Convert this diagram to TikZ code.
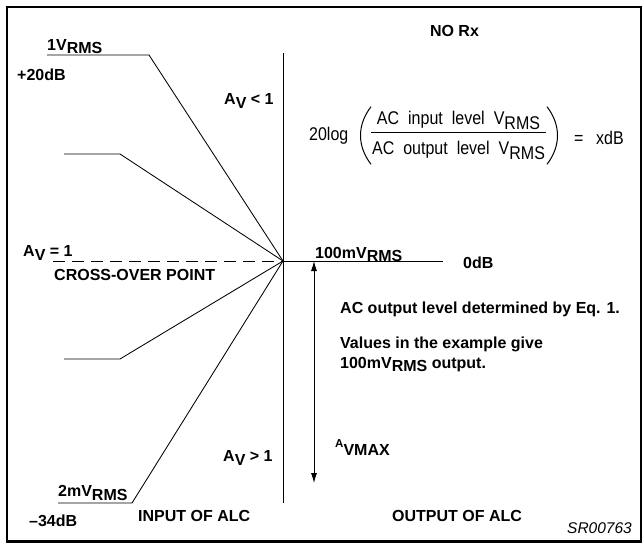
\documentclass[tikz,border=0pt]{standalone}
\usepackage{fontspec}
\usepackage{graphicx}
\setmainfont{Liberation Sans}
\usetikzlibrary{arrows.meta}
\newcommand\lsub[1]{\raisebox{-3.8pt}{#1}}
\newcommand\fsub[1]{\raisebox{-4.7pt}{#1}}
\newcommand\wsp{\hspace*{9pt}}
\newcommand\fstr[1]{\scalebox{1}[1.15]{#1}}
\begin{document}
\begin{tikzpicture}[x=1pt,y=-1pt,
  lbl/.style={font=\fontsize{16}{18}\selectfont\bfseries, inner sep=0pt, anchor=base west},
  frm/.style={font=\fontsize{16}{18}\selectfont, inner sep=0pt, anchor=base west},
  ln/.style={line width=0.85pt, line join=round},
  dbl/.style={ln, {Latex[length=10pt,width=6pt]}-{Latex[length=10pt,width=6pt]}}]
\useasboundingbox (0,0) rectangle (643,544);
% frame
\draw[line width=2.2pt] (6.6,6.6) rectangle (641.3,541.5);
% key coordinates
\coordinate (X) at (283,261);
\coordinate (top) at (283,53);
\coordinate (bot) at (283,503);
\coordinate (a1) at (149,55);  \coordinate (a0) at (47,55);
\coordinate (b1) at (120,154); \coordinate (b0) at (64,154);
\coordinate (c1) at (120,359); \coordinate (c0) at (64,359);
\coordinate (d1) at (132,503); \coordinate (d0) at (58,503);
\coordinate (e0) at (53,261);
\coordinate (f1) at (443,261);
\coordinate (g0) at (314,261); \coordinate (g1) at (314,483);
% axis and lines
\draw[ln] (top) -- (bot);
\draw[ln] (X) -- (a1) -- (a0);
\draw[ln] (X) -- (b1) -- (b0);
\draw[ln] (X) -- (c1) -- (c0);
\draw[ln] (X) -- (d1) -- (d0);
\draw[ln, dash pattern=on 12pt off 7pt] (e0) -- (X);
\draw[ln] (X) -- (f1);
\draw[dbl] (g0) -- (g1);
% left labels
\node[lbl] (v1) at (47,50) {1V\lsub{RMS}};
\node[lbl] (p20) at (17,80.8) {+20dB};
\node[lbl] (avl) at (224,104.5) {A\lsub{V} < 1};
\node[lbl] (aveq) at (23,256.5) {A\lsub{V} = 1};
\node[lbl] (cross) at (54,280.5) {CROSS-OVER POINT};
\node[lbl] (avg) at (223,461.7) {A\lsub{V} > 1};
\node[lbl] (v2m) at (58,496.7) {2mV\lsub{RMS}};
\node[lbl] (m34) at (29,526.5) {\textendash34dB};
\node[lbl] (inp) at (138,521.5) {INPUT OF ALC};
% right labels
\node[lbl, anchor=base] (norx) at (454.5,36.8) {NO Rx};
\node[lbl] (v100) at (315,258) {100mV\lsub{RMS}};
\node[lbl] (odb) at (463,268) {0dB};
\node[lbl] (t1) at (340,313.5) {AC output level determined by Eq. 1.};
\node[lbl] (t2) at (340,348) {Values in the example give};
\node[lbl] (t3) at (340,368) {100mV\lsub{RMS} output.};
\node[lbl] (avmax) at (335,455) {\raisebox{7.5pt}{\fontsize{11.5}{13}\selectfont A}VMAX};
\node[lbl] (outp) at (392,521.5) {OUTPUT OF ALC};
\node[frm, font=\fontsize{15.5}{17}\selectfont\itshape] (sr) at (567,533) {SR00763};
% formula
\node[frm] (f20) at (309,140.5) {\fstr{20log}};
\node[frm, anchor=base] (num) at (458.5,124) {\fstr{AC\wsp input\wsp level\wsp V\fsub{RMS}}};
\node[frm, anchor=base] (den) at (458.5,154.3) {\fstr{AC\wsp output\wsp level\wsp V\fsub{RMS}}};
\coordinate (bar0) at (371,132.7); \coordinate (bar1) at (546,132.7);
\draw[ln] (bar0) -- (bar1);
\coordinate (lp0) at (371,106.7); \coordinate (lp1) at (371,164.3);
\coordinate (rp0) at (547,106.7); \coordinate (rp1) at (547,164.3);
\draw[line width=1pt] (lp0) .. controls (357,125) and (357,146) .. (lp1);
\draw[line width=1pt] (rp0) .. controls (561,125) and (561,146) .. (rp1);
\node[frm] (eq) at (574,144.5) {\fstr{=}};
\node[frm] (xdb) at (596,144.5) {\fstr{xdB}};
\end{tikzpicture}
\end{document}
